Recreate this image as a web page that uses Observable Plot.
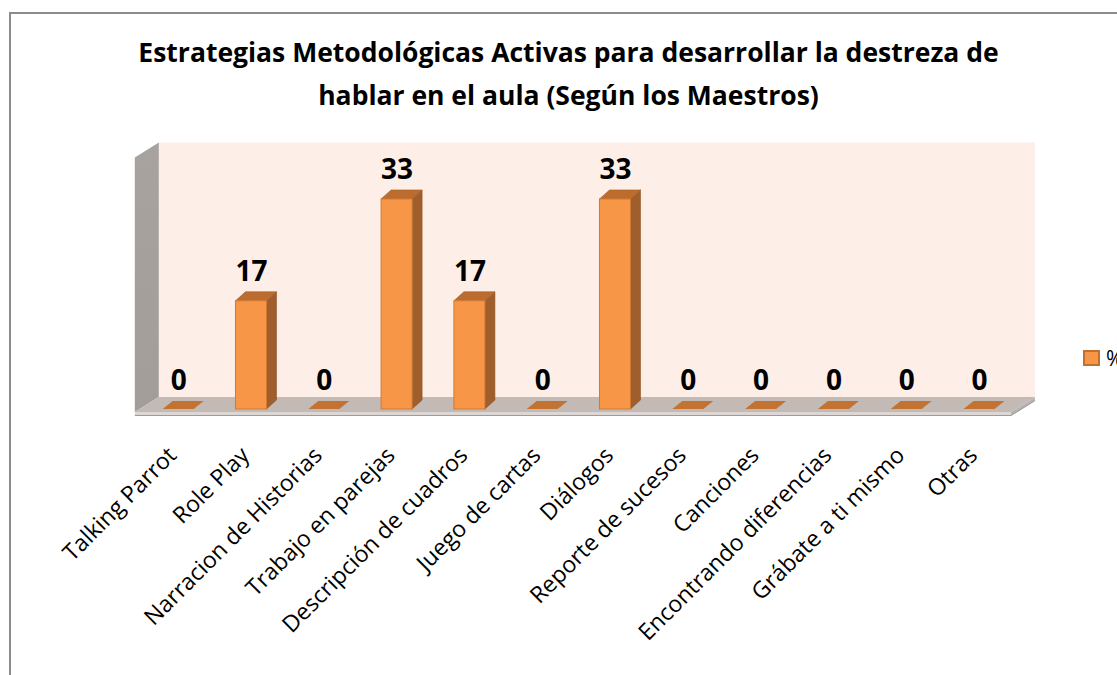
<!DOCTYPE html>
<html><head><meta charset="utf-8">
<script src="https://cdn.jsdelivr.net/npm/d3@7"></script>
<script src="https://cdn.jsdelivr.net/npm/@observablehq/plot@0.6"></script>
<style>
html,body{margin:0;padding:0;background:#fff;width:1117px;height:675px;overflow:hidden;position:relative;}
#frame{position:absolute;left:9px;top:12px;width:1200px;height:800px;border-left:2px solid #8c8c8c;border-top:2px solid #8c8c8c;}
#title{position:absolute;left:10px;top:31px;width:1117px;font-family:"Open Sans",Lato,sans-serif;font-weight:bold;font-size:26.5px;line-height:43px;text-align:center;color:#000;}
#chart{position:absolute;left:0;top:130px;}
#legend{position:absolute;left:1083px;top:346px;height:24px;display:flex;align-items:center;font-family:"Open Sans",sans-serif;font-size:21px;color:#000;white-space:nowrap;}
#legend .sw{width:13px;height:12px;background:#F79646;border:2px solid #C0702F;margin-right:6px;}
</style>
</head><body>
<div id="frame"></div>
<div id="title">Estrategias Metodológicas Activas para desarrollar la destreza de<br>hablar en el aula (Según los Maestros)</div>
<div id="chart"></div>
<div id="legend"><span class="sw"></span><span>%</span></div>
<script>
const categories = ["Talking Parrot","Role Play","Narracion de Historias","Trabajo en parejas","Descripción de cuadros","Juego de cartas","Diálogos","Reporte de sucesos","Canciones","Encontrando diferencias","Grábate a ti mismo","Otras"];
const values = [0,17,0,33,17,0,33,0,0,0,0,0];
const seriesName = "%";
const yMax = 40;

const data = categories.map((c,i)=>({cat:c, val:values[i]}));

function decor(index, scales) {
  const x = scales.x, y = scales.y;
  const [X0, X1] = x.range();
  const yb = y(0), yt = y(yMax);
  const P = pts => pts.map(p => p.join(",")).join(" ");
  const g = d3.create("svg:g");
  const fl = X0 - 7, fr = X1 - 4.5, ff = yb + 3;
  const dX = 24, dY = -15;
  const top = yt - 12;
  g.append("polygon").attr("points", P([[fl+dX, ff+dY],[fl+dX, top],[fr+dX, top],[fr+dX, ff+dY]])).attr("fill","#FDEEE8");
  const grad = g.append("defs").append("linearGradient").attr("id","lw").attr("x1","0").attr("x2","0").attr("y1","0").attr("y2","1");
  grad.append("stop").attr("offset","0").attr("stop-color","#A9A39F");
  grad.append("stop").attr("offset","1").attr("stop-color","#A39D99");
  g.append("polygon").attr("points", P([[fl, ff],[fl, top-dY],[fl+dX, top],[fl+dX, ff+dY]])).attr("fill","url(#lw)");
  g.append("polygon").attr("points", P([[fl, ff],[fl+dX, ff+dY],[fr+dX, ff+dY],[fr, ff]])).attr("fill","#C3BAB6");
  g.append("polygon").attr("points", P([[fl, ff],[fr, ff],[fr, ff+3],[fl, ff+3]])).attr("fill","#DCD7D5");
  g.append("polygon").attr("points", P([[fr, ff],[fr+dX, ff+dY],[fr+dX, ff+dY+3],[fr, ff+3]])).attr("fill","#B9B4B1");
  g.append("polyline").attr("points", P([[fl, ff+3.5],[fr, ff+3.5],[fr+dX, ff+dY+3.5]])).attr("fill","none").attr("stroke","#9C9C9C").attr("stroke-width",1.2);
  const bw = x.bandwidth();
  const ddx = 10, ddy = -9;
  categories.forEach((c,i) => {
    const v = values[i];
    const xl = x(c), xr = xl + bw;
    const yv = y(v);
    if (v > 0) {
      g.append("polygon").attr("points", P([[xr, yv],[xr+ddx, yv+ddy],[xr+ddx, yb+ddy],[xr, yb]])).attr("fill","#9F5E2B").attr("stroke","#8E5426").attr("stroke-width",0.6);
      g.append("polygon").attr("points", P([[xl, yv],[xl+ddx, yv+ddy],[xr+ddx, yv+ddy],[xr, yv]])).attr("fill","#BB6C2E").attr("stroke","#A5602A").attr("stroke-width",0.6);
    } else {
      g.append("polygon").attr("points", P([[xl, yb],[xl+ddx, yb+ddy+1],[xr+ddx, yb+ddy+1],[xr, yb]])).attr("fill","#C27332");
    }
  });
  return g.node();
}

const chart = Plot.plot({
  width: 1117,
  height: 545,
  marginTop: 24,
  marginBottom: 266,
  marginLeft: 142,
  marginRight: 102,
  style: {background: "transparent", overflow: "visible"},
  x: {type: "band", domain: categories, range: [141.8, 1015.4], paddingInner: 0.574, paddingOuter: 0.287, round: false, axis: null},
  y: {domain: [0, yMax], range: [279, 24.4], axis: null},
  marks: [
    decor,
    Plot.barY(data.filter(d => d.val > 0), {x: "cat", y: "val", fill: "#F79646", stroke: "#D27A33", strokeWidth: 1}),
    Plot.text(data, {x: "cat", y: "val", text: d => String(d.val), dy: -20, lineAnchor: "bottom", fontSize: 28, fontWeight: "bold", fontFamily: "Open Sans, sans-serif", fill: "#000"}),
    Plot.text(categories, {x: d => d, frameAnchor: "bottom", text: d => d, rotate: -45, textAnchor: "end", lineAnchor: "middle", dx: -6, dy: 42, fontSize: 23, fontFamily: "Open Sans, sans-serif", fill: "#000"})
  ]
});
document.getElementById("chart").appendChild(chart);
</script>
</body></html>
